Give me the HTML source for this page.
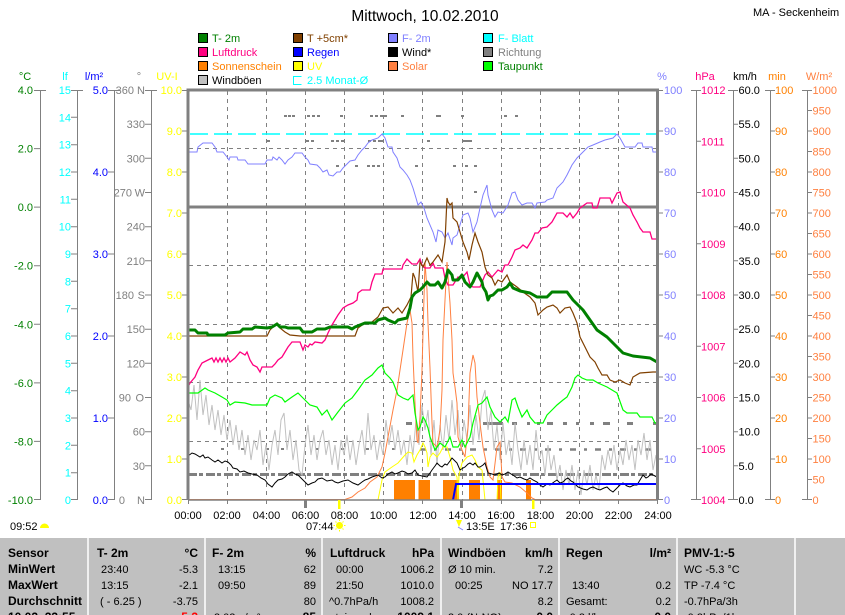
<!DOCTYPE html>
<html><head><meta charset="utf-8"><style>
html,body{margin:0;padding:0;background:#fff;}
svg{display:block;font-family:"Liberation Sans",sans-serif;font-size:11px;}
</style></head><body>
<svg width="845" height="615" viewBox="0 0 845 615" xmlns="http://www.w3.org/2000/svg">
<rect x="0" y="0" width="845" height="615" fill="#fff"/>
<!-- Title -->
<text x="425" y="21" text-anchor="middle" font-size="15.5">Mittwoch, 10.02.2010</text>
<text x="753" y="16" font-size="11">MA - Seckenheim</text>

<!-- Legend -->
<g stroke="#000" stroke-width="1">
<rect x="198.5" y="33.5" width="9" height="9" fill="#008000"/>
<rect x="198.5" y="47.5" width="9" height="9" fill="#FF0080"/>
<rect x="198.5" y="61.5" width="9" height="9" fill="#FF8000"/>
<rect x="198.5" y="75.5" width="9" height="9" fill="#C0C0C0"/>
<rect x="293.5" y="33.5" width="9" height="9" fill="#804000"/>
<rect x="293.5" y="47.5" width="9" height="9" fill="#0000FF"/>
<rect x="293.5" y="61.5" width="9" height="9" fill="#FFFF00"/>
<rect x="388.5" y="33.5" width="9" height="9" fill="#8080FF"/>
<rect x="388.5" y="47.5" width="9" height="9" fill="#000000"/>
<rect x="388.5" y="61.5" width="9" height="9" fill="#FF8040"/>
<rect x="483.5" y="33.5" width="9" height="9" fill="#00FFFF"/>
<rect x="483.5" y="47.5" width="9" height="9" fill="#808080"/>
<rect x="483.5" y="61.5" width="9" height="9" fill="#00FF00"/>
</g>
<path d="M301.5,76.5 H293.5 V84.5 H301.5" fill="none" stroke="#00FFFF" stroke-width="1"/>
<g font-size="11">
<text x="212" y="42" fill="#008000">T- 2m</text>
<text x="212" y="56" fill="#FF0080">Luftdruck</text>
<text x="212" y="70" fill="#FF8000">Sonnenschein</text>
<text x="212" y="84" fill="#000">Windböen</text>
<text x="307" y="42" fill="#804000">T +5cm*</text>
<text x="307" y="56" fill="#0000FF">Regen</text>
<text x="307" y="70" fill="#FFFF00">UV</text>
<text x="307" y="84" fill="#00FFFF">2.5 Monat-Ø</text>
<text x="402" y="42" fill="#8080FF">F- 2m</text>
<text x="402" y="56" fill="#000">Wind*</text>
<text x="402" y="70" fill="#FF8040">Solar</text>
<text x="498" y="42" fill="#00FFFF">F- Blatt</text>
<text x="498" y="56" fill="#808080">Richtung</text>
<text x="498" y="70" fill="#008000">Taupunkt</text>
</g>

<!-- Unit labels -->
<g font-size="11" text-anchor="middle">
<text x="25" y="80" fill="#008000">°C</text>
<text x="65" y="80" fill="#00FFFF">lf</text>
<text x="94" y="80" fill="#0000FF">l/m²</text>
<text x="139" y="80" fill="#808080">°</text>
<text x="167" y="80" fill="#FFFF00">UV-I</text>
<text x="662" y="80" fill="#8080FF">%</text>
<text x="705" y="80" fill="#FF0080">hPa</text>
<text x="745" y="80" fill="#000">km/h</text>
<text x="777" y="80" fill="#FF8000">min</text>
<text x="819" y="80" fill="#FF8040">W/m²</text>
</g>

<!-- Left axes -->
<g stroke="#808080" stroke-width="1" fill="none">
<path d="M40.5,90 V500 M34,90.5 H46 M34,148.6 H40 M34,207.1 H40 M34,265.7 H40 M34,324.3 H40 M34,382.9 H40 M34,441.4 H40 M34,499.5 H40"/>
<path d="M77.5,90 V500 M71,90.5 H83 M71,117.3 H77 M71,144.7 H77 M71,172 H77 M71,199.3 H77 M71,226.7 H77 M71,254 H77 M71,281.3 H77 M71,308.7 H77 M71,336 H77 M71,363.3 H77 M71,390.7 H77 M71,418 H77 M71,445.3 H77 M71,472.7 H77 M71,499.5 H77"/>
<path d="M114.5,90 V500 M108,90.5 H120 M108,172 H114 M108,254 H114 M108,336 H114 M108,418 H114 M108,499.5 H114"/>
<path d="M151.5,90 V500 M145,90.5 H157 M145,124.2 H151 M145,158.3 H151 M145,192.5 H151 M145,226.7 H151 M145,260.8 H151 M145,295 H151 M145,329.2 H151 M145,363.3 H151 M145,397.5 H151 M145,431.7 H151 M145,465.8 H151 M145,499.5 H151"/>
<path d="M182,90.5 H188 M182,131 H188 M182,172 H188 M182,213 H188 M182,254 H188 M182,295 H188 M182,336 H188 M182,377 H188 M182,418 H188 M182,459 H188 M182,499.5 H188"/>
</g>
<g font-size="11" text-anchor="end">
<g fill="#008000">
<text x="33" y="94">4.0</text><text x="33" y="152.6">2.0</text><text x="33" y="211.1">0.0</text><text x="33" y="269.7">-2.0</text><text x="33" y="328.3">-4.0</text><text x="33" y="386.9">-6.0</text><text x="33" y="445.4">-8.0</text><text x="33" y="504">-10.0</text>
</g>
<g fill="#00FFFF">
<text x="71" y="94">15</text><text x="71" y="121.3">14</text><text x="71" y="148.7">13</text><text x="71" y="176">12</text><text x="71" y="203.3">11</text><text x="71" y="230.7">10</text><text x="71" y="258">9</text><text x="71" y="285.3">8</text><text x="71" y="312.7">7</text><text x="71" y="340">6</text><text x="71" y="367.3">5</text><text x="71" y="394.7">4</text><text x="71" y="422">3</text><text x="71" y="449.3">2</text><text x="71" y="476.7">1</text><text x="71" y="504">0</text>
</g>
<g fill="#0000FF">
<text x="108" y="94">5.0</text><text x="108" y="176">4.0</text><text x="108" y="258">3.0</text><text x="108" y="340">2.0</text><text x="108" y="422">1.0</text><text x="108" y="504">0.0</text>
</g>
<g fill="#808080">
<text x="134" y="94">360</text><text x="145" y="94">N</text>
<text x="145" y="128.2">330</text>
<text x="145" y="162.3">300</text>
<text x="132" y="196.5">270</text><text x="145" y="196.5">W</text>
<text x="145" y="230.7">240</text>
<text x="145" y="264.8">210</text>
<text x="134" y="299">180</text><text x="145" y="299">S</text>
<text x="145" y="333.2">150</text>
<text x="145" y="367.3">120</text>
<text x="131" y="401.5">90</text><text x="144" y="401.5">O</text>
<text x="145" y="435.7">60</text>
<text x="145" y="469.8">30</text>
<text x="125" y="504">0</text><text x="145" y="504">N</text>
</g>
<g fill="#FFFF00">
<text x="182" y="94">10.0</text><text x="182" y="135">9.0</text><text x="182" y="176">8.0</text><text x="182" y="217">7.0</text><text x="182" y="258">6.0</text><text x="182" y="299">5.0</text><text x="182" y="340">4.0</text><text x="182" y="381">3.0</text><text x="182" y="422">2.0</text><text x="182" y="463">1.0</text><text x="182" y="504">0.0</text>
</g>
</g>

<!-- Right axes -->
<g stroke="#808080" stroke-width="1" fill="none">
<path d="M658,90.5 H663 M658,131 H663 M658,172 H663 M658,213 H663 M658,254 H663 M658,295 H663 M658,336 H663 M658,377 H663 M658,418 H663 M658,459 H663 M658,499.5 H663"/>
<path d="M696.5,90 V500 M691,90.5 H701 M696,141.3 H701 M696,192.5 H701 M696,243.8 H701 M696,295 H701 M696,346.3 H701 M696,397.5 H701 M696,448.8 H701 M691,499.5 H701"/>
<path d="M733.5,90 V500 M728,90.5 H738 M733,124.2 H738 M733,158.3 H738 M733,192.5 H738 M733,226.7 H738 M733,260.8 H738 M733,295 H738 M733,329.2 H738 M733,363.3 H738 M733,397.5 H738 M733,431.7 H738 M733,465.8 H738 M728,499.5 H738"/>
<path d="M770.5,90 V500 M765,90.5 H775 M770,131 H775 M770,172 H775 M770,213 H775 M770,254 H775 M770,295 H775 M770,336 H775 M770,377 H775 M770,418 H775 M770,459 H775 M765,499.5 H775"/>
<path d="M807.5,90 V500 M802,90.5 H812 M807,110.5 H812 M807,131 H812 M807,151.5 H812 M807,172 H812 M807,192.5 H812 M807,213 H812 M807,233.5 H812 M807,254 H812 M807,274.5 H812 M807,295 H812 M807,315.5 H812 M807,336 H812 M807,356.5 H812 M807,377 H812 M807,397.5 H812 M807,418 H812 M807,438.5 H812 M807,459 H812 M807,479.5 H812 M802,499.5 H812"/>
</g>
<g font-size="11">
<g fill="#8080FF">
<text x="664" y="94">100</text><text x="664" y="135">90</text><text x="664" y="176">80</text><text x="664" y="217">70</text><text x="664" y="258">60</text><text x="664" y="299">50</text><text x="664" y="340">40</text><text x="664" y="381">30</text><text x="664" y="422">20</text><text x="664" y="463">10</text><text x="664" y="504">0</text>
</g>
<g fill="#FF0080">
<text x="701" y="94">1012</text><text x="701" y="145.3">1011</text><text x="701" y="196.5">1010</text><text x="701" y="247.8">1009</text><text x="701" y="299">1008</text><text x="701" y="350.3">1007</text><text x="701" y="401.5">1006</text><text x="701" y="452.8">1005</text><text x="701" y="504">1004</text>
</g>
<g fill="#000">
<text x="738.5" y="94">60.0</text><text x="738.5" y="128.2">55.0</text><text x="738.5" y="162.3">50.0</text><text x="738.5" y="196.5">45.0</text><text x="738.5" y="230.7">40.0</text><text x="738.5" y="264.8">35.0</text><text x="738.5" y="299">30.0</text><text x="738.5" y="333.2">25.0</text><text x="738.5" y="367.3">20.0</text><text x="738.5" y="401.5">15.0</text><text x="738.5" y="435.7">10.0</text><text x="738.5" y="469.8">5.0</text><text x="738.5" y="504">0.0</text>
</g>
<g fill="#FF8000">
<text x="775" y="94">100</text><text x="775" y="135">90</text><text x="775" y="176">80</text><text x="775" y="217">70</text><text x="775" y="258">60</text><text x="775" y="299">50</text><text x="775" y="340">40</text><text x="775" y="381">30</text><text x="775" y="422">20</text><text x="775" y="463">10</text><text x="775" y="504">0</text>
</g>
<g fill="#FF8040">
<text x="812.5" y="94">1000</text><text x="812.5" y="114.5">950</text><text x="812.5" y="135">900</text><text x="812.5" y="155.5">850</text><text x="812.5" y="176">800</text><text x="812.5" y="196.5">750</text><text x="812.5" y="217">700</text><text x="812.5" y="237.5">650</text><text x="812.5" y="258">600</text><text x="812.5" y="278.5">550</text><text x="812.5" y="299">500</text><text x="812.5" y="319.5">450</text><text x="812.5" y="340">400</text><text x="812.5" y="360.5">350</text><text x="812.5" y="381">300</text><text x="812.5" y="401.5">250</text><text x="812.5" y="422">200</text><text x="812.5" y="442.5">150</text><text x="812.5" y="463">100</text><text x="812.5" y="483.5">50</text><text x="812.5" y="504">0</text>
</g>
</g>

<!-- Grid -->
<g stroke="#808080" stroke-width="1" stroke-dasharray="4,4" fill="none">
<path d="M227.5,91 V500 M266.5,91 V500 M305.5,91 V500 M344.5,91 V500 M383.5,91 V500 M422.5,91 V500 M462.5,91 V500 M501.5,91 V500 M540.5,91 V500 M579.5,91 V500 M618.5,91 V500"/>
<path d="M189,148.5 H657 M189,265.5 H657 M189,324.5 H657 M189,382.5 H657 M189,441.5 H657"/>
</g>
<path d="M188,207 H658" stroke="#808080" stroke-width="3"/>
<path d="M190,134 H657" stroke="#00FFFF" stroke-width="1.5" stroke-dasharray="18,6"/>

<!-- Richtung marks -->
<g fill="#808080">
<rect x="284" y="115" width="3" height="2"/><rect x="288" y="115" width="3" height="2"/><rect x="292" y="115" width="3" height="2"/>
<rect x="307" y="115" width="3" height="2"/><rect x="312" y="115" width="3" height="2"/><rect x="317" y="115" width="3" height="2"/>
<rect x="340" y="115" width="3" height="2"/><rect x="370" y="115" width="3" height="2"/><rect x="375" y="115" width="3" height="2"/><rect x="380" y="115" width="3" height="2"/><rect x="384" y="115" width="3" height="2"/><rect x="401" y="115" width="3" height="2"/>
<rect x="436" y="115" width="5" height="2"/><rect x="461" y="115" width="3" height="2"/><rect x="504" y="115" width="3" height="2"/><rect x="515" y="115" width="3" height="2"/>
<rect x="267" y="140" width="3" height="2"/><rect x="306" y="140" width="3" height="2"/><rect x="311" y="140" width="3" height="2"/>
<rect x="331" y="140" width="3" height="2"/><rect x="336" y="140" width="3" height="2"/><rect x="341" y="140" width="3" height="2"/>
<rect x="368" y="140" width="3" height="2"/><rect x="373" y="140" width="3" height="2"/><rect x="378" y="140" width="3" height="2"/><rect x="381" y="140" width="3" height="2"/>
<rect x="427" y="140" width="3" height="2"/><rect x="463" y="140" width="9" height="2"/>
<rect x="336" y="165" width="3" height="2"/><rect x="355" y="165" width="3" height="2"/><rect x="367" y="165" width="3" height="2"/><rect x="372" y="165" width="3" height="2"/><rect x="377" y="165" width="3" height="2"/><rect x="415" y="165" width="3" height="2"/>
<rect x="453" y="165" width="3" height="2"/><rect x="465" y="165" width="3" height="2"/><rect x="474" y="165" width="3" height="2"/>
<rect x="474" y="191" width="3" height="2"/>
<rect x="221" y="448" width="3" height="2"/><rect x="241" y="448" width="3" height="2"/><rect x="266" y="448" width="3" height="2"/><rect x="281" y="448" width="3" height="2"/><rect x="316" y="448" width="3" height="2"/><rect x="341" y="448" width="3" height="2"/><rect x="366" y="448" width="3" height="2"/><rect x="392" y="448" width="3" height="2"/>
<rect x="406" y="422" width="6" height="3"/>
</g>
<g stroke="#808080" fill="none">
<path d="M188,474.5 H657" stroke-width="3" stroke-dasharray="9,2,4,3"/>
<path d="M420,449.5 H657" stroke-width="2.5" stroke-dasharray="6,8,3,8"/>
<path d="M483,423.5 H503 M512,423.5 H517 M527,423.5 H530 M537,423.5 H540 M547,423.5 H553 M563,423.5 H567 M576,423.5 H579 M590,423.5 H594 M603,423.5 H610 M627,423.5 H633 M653,423.5 H657" stroke-width="3"/>
</g>

<!-- Windböen -->
<polyline fill="none" stroke="#C0C0C0" stroke-width="1" points="188,400 191,410 194,385 197,420 200,380 203,415 206,395 209,425 212,405 215,430 218,410 221,435 224,415 227,440 230,420 233,445 236,425 239,450 242,430 245,455 248,435 251,460 254,440 257,450 260,430 263,465 266,445 269,470 272,445 275,430 278,455 281,420 284,413 287,450 290,430 293,460 296,440 299,470 302,475 305,445 308,425 311,455 314,435 317,460 320,440 323,430 326,455 329,440 332,465 335,445 338,470 341,440 344,455 347,435 350,460 353,440 356,465 359,445 362,430 365,455 368,413 371,450 374,435 377,460 380,440 383,455 386,420 389,445 392,425 395,450 398,430 401,455 404,440 407,465 410,435 413,455 416,420 419,445 422,405 425,430 428,410 431,455 434,420 437,465 440,425 443,450 446,415 449,440 452,400 455,435 458,410 461,450 464,420 467,440 470,405 473,445 476,415 479,440 482,400 485,390 488,430 491,410 494,450 497,425 500,460 503,423 506,455 509,440 512,465 515,423 518,450 521,470 524,440 527,465 530,445 533,470 536,430 539,460 542,450 545,475 548,445 551,470 554,455 557,480 560,465 563,490 566,470 569,485 572,465 575,490 578,470 581,495 584,470 587,485 590,465 593,490 596,475 599,490 602,455 605,470 608,450 611,465 614,445 617,470 620,450 623,465 626,440 629,460 632,445 635,470 638,440 641,455 644,433 647,460 650,440 653,470 656,455"/>

<!-- Sonnenschein bars -->
<g fill="#FF8000">
<rect x="394" y="480" width="21" height="20"/>
<rect x="418.5" y="480" width="11.5" height="20"/>
<rect x="443" y="480" width="16" height="20"/>
<rect x="469" y="480" width="11" height="20"/>
<rect x="497" y="480" width="5" height="20"/>
<rect x="526" y="480" width="5" height="20"/>
</g>

<!-- Solar -->
<polyline fill="none" stroke="#FF8040" stroke-width="1" points="188,499.5 345,499.5 352,497 358,492 365,488 370,482 377,477 382,467 385,453 388,437 393,410 397,390 400,370 403,350 407,323 410,310 412,323 413,357 415,403 417,440 418,443 420,417 422,370 423,333 425,262 427,290 428,323 430,368 432,423 433,443 437,447 440,430 442,390 443,340 445,300 447,262 449,290 450,303 452,340 453,373 455,387 457,403 458,437 462,450 465,457 468,427 470,373 473,355 475,363 477,397 480,423 483,447 487,467 490,477 493,480 497,447 500,442 502,477 505,482 512,483 520,487 527,493 532,498 535,499.5 657,499.5"/>

<!-- UV -->
<polyline fill="none" stroke="#FFFF00" stroke-width="1" points="378,500 382,480 385,472 392,467 398,463 405,455 408,452 412,453 414,462 417,455 420,450 423,443 425,447 427,453 428,467 430,457 433,453 437,457 440,453 443,447 447,447 450,457 453,470 457,477 458,500 459,475 462,463 467,457 472,455 475,460 478,467 482,470 485,500 497,500 498,477 500,472 501,500"/>

<!-- F-2m -->
<polyline fill="none" stroke="#8080FF" stroke-width="1" points="188,152 197,152 198,147 203,143 212,143 215,147 217,152 223,152 227,157 229,160 230,157 237,157 238,160 245,160 248,164 265,164 267,160 272,160 273,157 277,160 279,157 282,160 285,164 288,160 292,157 295,153 302,153 305,157 308,160 310,164 317,165 320,168 323,172 327,170 329,175 333,176 337,172 340,172 343,168 347,164 350,161 355,160 358,155 362,150 365,147 368,143 372,140 375,139 378,138 382,134 385,138 388,147 392,147 393,152 397,158 400,167 403,170 407,175 410,180 413,188 416,198 418,205 421,202 424,208 427,218 433,232 436,242 438,230 442,232 445,238 448,233 452,245 453,238 457,235 460,225 463,215 468,213 470,218 473,232 477,222 480,208 483,195 487,185 488,195 492,210 495,217 498,212 503,213 508,205 512,193 515,192 518,200 522,205 527,203 532,203 535,208 537,203 545,202 547,200 553,198 557,188 563,182 567,175 572,165 577,158 580,155 583,152 588,147 593,145 600,142 605,140 613,138 617,134 620,138 625,147 635,147 638,143 642,143 643,147 652,147 653,152 657,152"/>

<!-- Luftdruck -->
<polyline fill="none" stroke="#FF0080" stroke-width="1.3" points="188,387 190,383 195,377 198,370 202,363 208,360 212,358 214,362 216,358 218,362 220,358 222,362 224,358 226,362 228,358 230,362 235,358 240,352 245,355 247,352 250,360 253,365 257,367 260,372 262,367 272,367 275,364 278,360 282,357 285,352 288,347 292,342 300,342 303,350 305,345 308,347 310,344 312,345 315,342 322,343 325,340 328,333 332,325 335,320 338,315 343,308 348,305 353,303 357,300 358,293 362,290 370,290 372,282 375,274 382,274 383,269 402,269 403,265 407,259 412,264 417,264 420,259 422,265 425,268 430,268 433,263 435,268 443,268 445,278 448,285 453,285 458,277 462,278 467,272 470,285 473,287 480,287 485,275 488,272 492,277 498,270 502,272 505,265 508,265 512,257 515,250 520,248 523,245 527,248 532,240 535,233 538,233 542,228 547,227 552,222 557,213 563,213 567,217 570,213 573,218 577,213 580,208 587,203 592,203 593,208 597,208 600,198 610,198 612,203 617,193 620,192 623,202 630,208 633,215 637,222 640,228 643,232 650,232 652,239 657,239"/>

<!-- Taupunkt -->
<polyline fill="none" stroke="#00FF00" stroke-width="1.2" points="188,393 198,393 205,388 208,390 215,393 222,397 227,400 230,405 235,402 245,403 252,405 267,405 270,398 275,395 282,398 285,402 292,397 298,393 305,400 310,405 317,407 322,415 327,410 332,420 338,412 345,403 352,398 358,390 365,380 372,375 378,368 382,365 385,373 390,378 393,382 398,395 403,398 408,400 413,395 415,413 418,430 420,427 423,417 425,420 428,428 430,437 435,450 440,443 445,447 450,437 453,447 458,447 462,440 465,447 470,437 473,423 478,405 482,403 487,397 490,407 495,417 500,422 505,417 508,422 512,400 515,398 518,407 522,417 527,410 530,417 535,423 543,423 547,415 552,410 557,405 563,400 567,397 572,387 575,378 578,375 582,378 587,380 593,380 598,383 607,387 617,393 623,410 627,413 637,413 640,417 652,417 655,423 657,423"/>

<!-- T +5cm -->
<polyline fill="none" stroke="#804000" stroke-width="1.2" points="188,336 267,336 270,330 277,323 280,328 285,332 290,335 300,336 355,336 358,328 365,323 372,322 378,317 383,308 388,307 393,313 398,308 402,313 407,305 411,297 413,273 415,278 418,292 420,262 423,267 427,258 430,265 433,262 438,255 442,262 445,242 447,198 448,202 450,205 452,203 453,218 457,222 460,232 463,242 467,252 469,260 472,245 475,233 478,242 482,252 485,267 488,275 492,278 495,285 498,280 502,282 507,275 510,282 517,287 523,292 530,297 535,303 538,315 543,310 547,307 553,305 557,308 560,313 565,308 570,307 573,313 577,323 580,337 585,347 590,357 595,362 598,368 602,375 607,375 610,380 615,382 620,380 625,383 630,385 633,377 640,373 653,372 657,372"/>

<!-- T-2m -->
<polyline fill="none" stroke="#008000" stroke-width="3" stroke-linejoin="round" points="188,330 195,330 198,333 207,333 208,335 225,335 228,333 240,332 243,329 252,329 255,327 267,328 272,327 277,324 280,327 285,327 288,328 300,328 303,332 312,332 317,329 325,329 330,327 348,327 352,329 355,327 365,323 375,323 378,320 385,318 388,320 395,323 398,320 407,318 410,308 412,297 415,293 420,290 423,287 427,282 430,285 435,285 438,282 442,288 445,282 448,270 452,275 453,280 458,280 462,275 465,282 470,287 473,282 477,273 482,282 483,287 486,292 488,300 490,296 493,295 498,290 502,290 507,287 510,283 513,288 520,291 530,293 537,297 547,297 552,292 557,292 567,292 573,300 583,310 590,320 597,330 607,337 617,347 623,353 633,356 650,358 657,362"/>

<!-- Wind -->
<polyline fill="none" stroke="#000" stroke-width="1" points="188,456 192,453 195,454 200,457 203,455 205,458 208,457 212,460 215,462 218,460 222,463 225,461 228,462 231,465 233,468 237,469 240,472 244,471 248,473 252,474 257,475 261,478 265,480 268,484 272,487 275,483 278,480 282,479 285,477 288,474 292,472 295,474 298,475 301,478 303,480 306,483 308,485 312,483 315,482 318,479 322,478 327,481 332,480 335,482 338,483 343,481 348,480 353,483 358,485 362,482 365,480 368,479 372,477 375,476 378,475 382,478 385,477 388,474 392,472 395,474 398,473 402,471 405,472 408,474 412,473 415,470 418,475 422,476 427,477 430,473 432,470 435,466 437,463 440,466 442,467 445,464 447,465 450,461 452,458 455,461 457,463 460,470 463,468 465,467 468,464 470,463 473,465 475,463 478,467 480,467 483,465 485,463 488,473 492,474 495,475 499,473 502,475 505,474 508,472 511,474 513,475 517,478 520,477 524,479 527,480 530,478 533,480 537,482 540,485 543,487 547,484 550,485 554,482 557,480 560,483 563,482 566,479 568,478 571,481 573,482 576,485 578,487 583,489 587,490 590,488 593,487 597,489 600,490 604,488 607,487 610,490 613,492 616,489 618,487 621,484 623,483 627,486 630,487 634,485 637,485 640,480 643,475 646,478 648,477 651,474 653,475 657,477"/>

<!-- Regen -->
<polyline fill="none" stroke="#0000FF" stroke-width="2" points="453,500 456,484 657,484"/>

<!-- Plot border -->
<path d="M188,500 V90 H657.5 V500" fill="none" stroke="#808080" stroke-width="3"/>
<path d="M188,500 H658" stroke="#808080" stroke-width="1.5"/>

<!-- x axis ticks -->
<g stroke="#808080" stroke-width="1">
<path d="M188.5,500 V504 M227.5,500 V504 M266.5,500 V504 M305.5,500 V504 M344.5,500 V504 M383.5,500 V504 M422.5,500 V504 M462.5,500 V504 M501.5,500 V504 M540.5,500 V504 M579.5,500 V504 M618.5,500 V504 M657.5,500 V504"/>
</g>
<rect x="304" y="500" width="3" height="8" fill="#808080"/>
<rect x="460" y="500" width="3" height="8" fill="#808080"/>
<rect x="338" y="500" width="2.5" height="9" fill="#FFFF00"/>
<rect x="532" y="500" width="2.5" height="9" fill="#FFFF00"/>

<g font-size="11" text-anchor="middle" fill="#000">
<text x="188" y="519">00:00</text><text x="227" y="519">02:00</text><text x="266.5" y="519">04:00</text><text x="305.5" y="519">06:00</text><text x="344.5" y="519">08:00</text><text x="383.5" y="519">10:00</text><text x="423" y="519">12:00</text><text x="462" y="519">14:00</text><text x="501" y="519">16:00</text><text x="540.5" y="519">18:00</text><text x="579.5" y="519">20:00</text><text x="618.5" y="519">22:00</text><text x="658" y="519">24:00</text>
</g>
<g font-size="11" fill="#000">
<text x="10" y="530">09:52</text>
<text x="306" y="530">07:44</text>
<text x="466" y="530">13:5E</text>
<text x="500" y="530">17:36</text>
</g>
<path d="M40,528 A4.5,4.5 0 0 1 49,528 Z" fill="#FFFF00"/>
<circle cx="339.5" cy="525.5" r="3.5" fill="#FFFF00"/>
<g stroke="#FFFF00" stroke-width="1"><path d="M339.5,519.5 V521 M339.5,530 V531.5 M333.5,525.5 H335 M344,525.5 H345.5 M335.5,521.5 L336.5,522.5 M342.5,528.5 L343.5,529.5 M343.5,521.5 L342.5,522.5 M335.5,529.5 L336.5,528.5"/></g>
<path d="M456,520 L462,520 L459,527 Z" fill="#FFFF00"/>
<path d="M458,527 L463,530" stroke="#8080FF" stroke-width="1"/>
<rect x="530.5" y="522.5" width="5" height="5" fill="none" stroke="#FFFF00" stroke-width="1"/>

<!-- Footer table -->
<rect x="0" y="538" width="845" height="77" fill="#C0C0C0"/>
<g stroke="#fff" stroke-width="1.5">
<path d="M88,538 V615 M205,538 V615 M322,538 V615 M441,538 V615 M559,538 V615 M677,538 V615 M795,538 V615"/>
</g>
<g font-size="12" font-weight="bold" fill="#000">
<text x="8" y="557">Sensor</text><text x="8" y="573">MinWert</text><text x="8" y="589">MaxWert</text><text x="8" y="605">Durchschnitt</text><text x="8" y="621">10.02. 23:55</text>
<text x="97" y="557">T- 2m</text><text x="198" y="557" text-anchor="end">°C</text>
<text x="212" y="557">F- 2m</text><text x="316" y="557" text-anchor="end">%</text>
<text x="330" y="557">Luftdruck</text><text x="434" y="557" text-anchor="end">hPa</text>
<text x="448" y="557">Windböen</text><text x="553" y="557" text-anchor="end">km/h</text>
<text x="566" y="557">Regen</text><text x="671" y="557" text-anchor="end">l/m²</text>
<text x="684" y="557">PMV-1:-5</text>
<text x="198" y="621" text-anchor="end" fill="#FF0000">-5.3</text>
<text x="316" y="621" text-anchor="end">85</text>
<text x="434" y="621" text-anchor="end">1009.1</text>
<text x="553" y="621" text-anchor="end">0.0</text>
<text x="671" y="621" text-anchor="end">0.0</text>
</g>
<g font-size="11" fill="#000">
<text x="101" y="573">23:40</text><text x="198" y="573" text-anchor="end">-5.3</text>
<text x="101" y="589">13:15</text><text x="198" y="589" text-anchor="end">-2.1</text>
<text x="100" y="605">( - 6.25 )</text><text x="198" y="605" text-anchor="end">-3.75</text>
<text x="218" y="573">13:15</text><text x="316" y="573" text-anchor="end">62</text>
<text x="218" y="589">09:50</text><text x="316" y="589" text-anchor="end">89</text>
<text x="316" y="605" text-anchor="end">80</text>
<text x="214" y="621">3.02 g/m³</text>
<text x="336" y="573">00:00</text><text x="434" y="573" text-anchor="end">1006.2</text>
<text x="336" y="589">21:50</text><text x="434" y="589" text-anchor="end">1010.0</text>
<text x="329" y="605">^0.7hPa/h</text><text x="434" y="605" text-anchor="end">1008.2</text>
<text x="330" y="621">steigend</text>
<text x="448" y="573">Ø 10 min.</text><text x="553" y="573" text-anchor="end">7.2</text>
<text x="455" y="589">00:25</text><text x="553" y="589" text-anchor="end">NO 17.7</text>
<text x="553" y="605" text-anchor="end">8.2</text>
<text x="448" y="621">3.0 (N-NO)</text>
<text x="572" y="589">13:40</text><text x="671" y="589" text-anchor="end">0.2</text>
<text x="566" y="605">Gesamt:</text><text x="671" y="605" text-anchor="end">0.2</text>
<text x="566" y="621">-0.3 l/h</text>
<text x="684" y="573">WC -5.3 °C</text>
<text x="684" y="589">TP -7.4 °C</text>
<text x="684" y="605">-0.7hPa/3h</text>
<text x="684" y="621">-0.3hPa/1h</text>
</g>
</svg>
</body></html>
